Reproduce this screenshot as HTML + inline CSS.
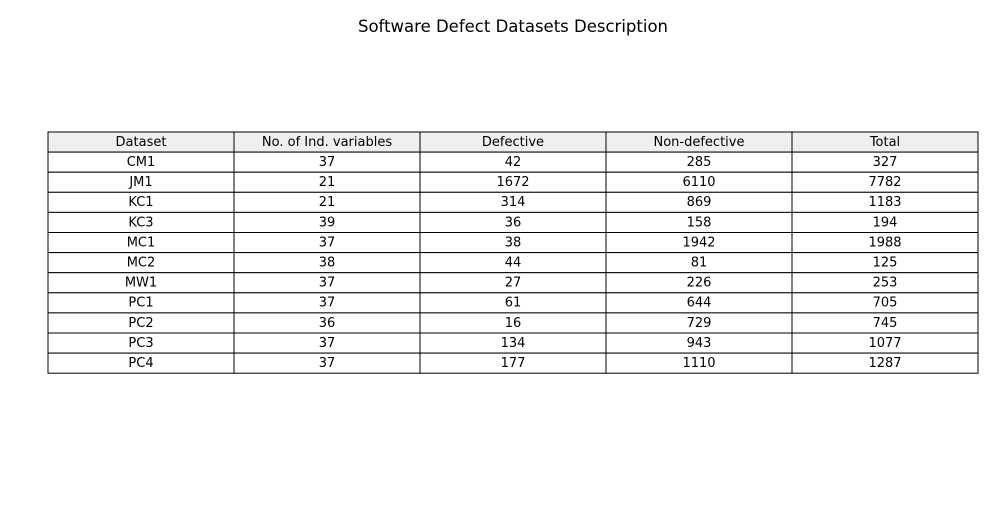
<!DOCTYPE html>
<html><head><meta charset="utf-8"><style>
body{margin:0;background:#fff;width:1000px;height:500px;overflow:hidden}
svg text{font-family:"DejaVu Sans","Liberation Sans",sans-serif;fill:#000}
</style></head><body>
<svg width="1000" height="500" xmlns="http://www.w3.org/2000/svg">
<text x="513" y="32" text-anchor="middle" font-size="16.5">Software Defect Datasets Description</text>
<g id="tbl"></g>
</svg>
<script>
const headers=["Dataset","No. of Ind. variables","Defective","Non-defective","Total"];
const datasets=["CM1","JM1","KC1","KC3","MC1","MC2","MW1","PC1","PC2","PC3","PC4"];
const indVars=[37,21,21,39,37,38,37,37,36,37,37];
const defective=[42,1672,314,36,38,44,27,61,16,134,177];
const nonDefective=[285,6110,869,158,1942,81,226,644,729,943,1110];
const totals=[327,7782,1183,194,1988,125,253,705,745,1077,1287];
const g=document.getElementById('tbl');
const NS="http://www.w3.org/2000/svg";
const x0=48,cw=186,y0=132,rh=20.1;
function cell(r,c,txt,bg){
  const rect=document.createElementNS(NS,'rect');
  rect.setAttribute('x',x0+c*cw);rect.setAttribute('y',y0+r*rh);
  rect.setAttribute('width',cw);rect.setAttribute('height',rh);
  rect.setAttribute('fill',bg);rect.setAttribute('stroke','#000');rect.setAttribute('stroke-width','1');
  
  
  g.appendChild(rect);
  const t=document.createElementNS(NS,'text');
  t.setAttribute('x',x0+c*cw+cw/2);t.setAttribute('y',y0+r*rh+rh/2+3.8);
  t.setAttribute('text-anchor','middle');t.setAttribute('font-size','13');
  t.textContent=txt;
  
  
  g.appendChild(t);
}
headers.forEach((h,c)=>cell(0,c,h,'#efefef'));
datasets.forEach((d,i)=>{
  const row=[d,indVars[i],defective[i],nonDefective[i],totals[i]];
  row.forEach((v,c)=>cell(i+1,c,String(v),'#fff'));
});
</script>
</body></html>
